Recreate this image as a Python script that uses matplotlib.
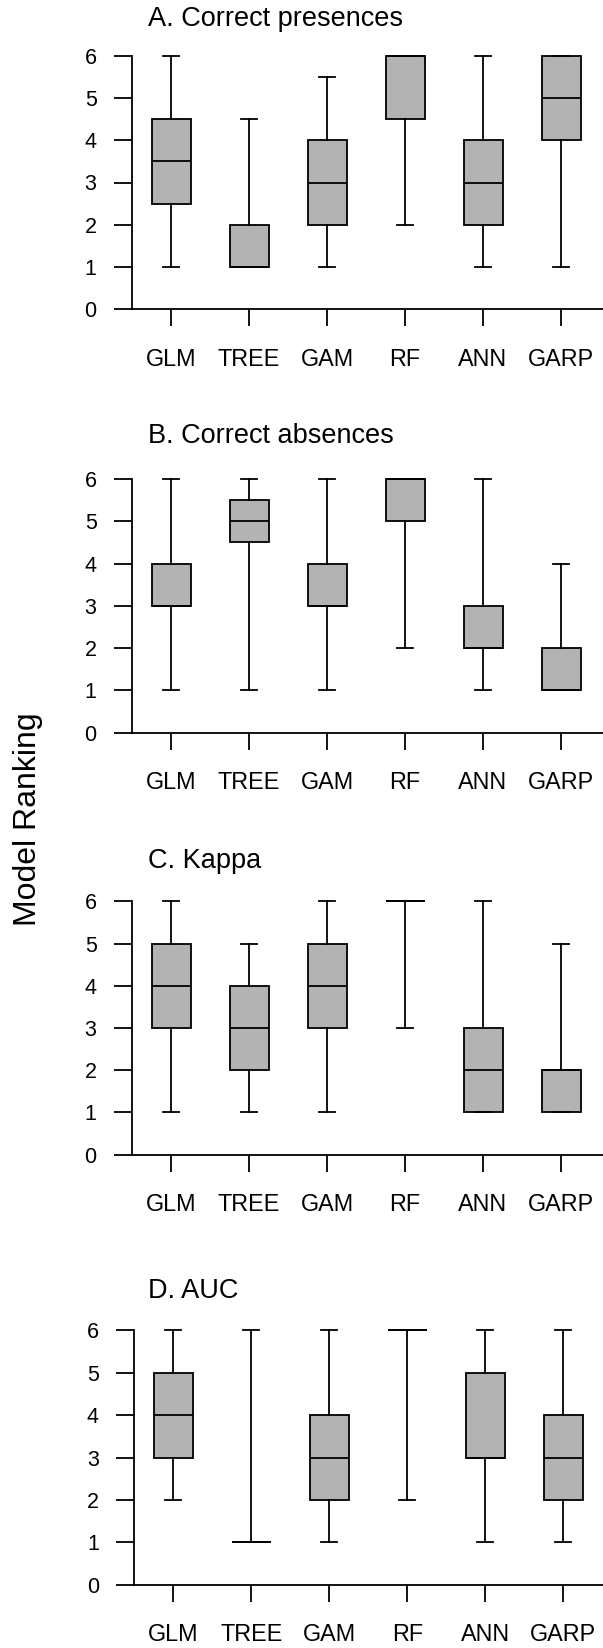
import matplotlib
matplotlib.use("Agg")
import matplotlib.pyplot as plt

plt.rcParams['font.family'] = ['Liberation Sans', 'DejaVu Sans']

models = ["GLM", "TREE", "GAM", "RF", "ANN", "GARP"]
titles = ["A. Correct presences", "B. Correct absences", "C. Kappa", "D. AUC"]
yticks = [0, 1, 2, 3, 4, 5, 6]

# per panel: whisker low, Q1, median, Q3, whisker high (one value per model)
a_lo = [1, 1, 1, 2, 1, 1]
a_q1 = [2.5, 1, 2, 4.5, 2, 4]
a_med = [3.5, 1, 3, 6, 3, 5]
a_q3 = [4.5, 2, 4, 6, 4, 6]
a_hi = [6, 4.5, 5.5, 6, 6, 6]

b_lo = [1, 1, 1, 2, 1, 1]
b_q1 = [3, 4.5, 3, 5, 2, 1]
b_med = [3, 5, 3, 6, 2, 1]
b_q3 = [4, 5.5, 4, 6, 3, 2]
b_hi = [6, 6, 6, 6, 6, 4]

c_lo = [1, 1, 1, 3, 1, 1]
c_q1 = [3, 2, 3, 6, 1, 1]
c_med = [4, 3, 4, 6, 2, 2]
c_q3 = [5, 4, 5, 6, 3, 2]
c_hi = [6, 5, 6, 6, 6, 5]

d_lo = [2, 1, 1, 2, 1, 1]
d_q1 = [3, 1, 2, 6, 3, 2]
d_med = [4, 1, 3, 6, 3, 3]
d_q3 = [5, 1, 4, 6, 5, 4]
d_hi = [6, 6, 6, 6, 6, 6]

panels = [
    (a_lo, a_q1, a_med, a_q3, a_hi),
    (b_lo, b_q1, b_med, b_q3, b_hi),
    (c_lo, c_q1, c_med, c_q3, c_hi),
    (d_lo, d_q1, d_med, d_q3, d_hi),
]

W, H = 603, 1648
fig = plt.figure(figsize=(W / 100, H / 100), dpi=100)

# layout in pixels
ax_left = [132, 132, 132, 134.3]
ax_top = [55.7, 479.0, 901.3, 1330.3]
ax_bot = [309.3, 732.7, 1154.7, 1584.7]
title_base = [26, 443, 868, 1298]
title_x = 148

lw = 1.3
for i, (lo, q1, med, q3, hi) in enumerate(panels):
    left = ax_left[i]
    ax = fig.add_axes([left / W, 1 - ax_bot[i] / H, (W - left) / W,
                       (ax_bot[i] - ax_top[i]) / H])
    stats = []
    for k, m in enumerate(models):
        stats.append(dict(label=m, whislo=lo[k], q1=q1[k], med=med[k],
                          q3=q3[k], whishi=hi[k], fliers=[]))
    res = ax.bxp(stats, positions=range(1, 7), widths=0.5, capwidths=0.205,
                 patch_artist=True, showfliers=False,
                 boxprops=dict(facecolor='#B3B3B3', edgecolor='black', linewidth=lw),
                 medianprops=dict(color='black', linewidth=lw),
                 whiskerprops=dict(color='black', linewidth=lw),
                 capprops=dict(color='black', linewidth=lw))
    for key in res:
        for art in res[key]:
            art.set_clip_on(False)
    span = (W - left) / 78.0
    ax.set_xlim(0.5, 0.5 + span)
    ax.set_ylim(0, 6)
    ax.set_yticks(yticks)
    ax.set_yticklabels([str(t) for t in yticks], fontsize=15.5)
    ax.set_xticks(range(1, 7))
    ax.set_xticklabels(models, fontsize=16.8)
    for s in ['top', 'right']:
        ax.spines[s].set_visible(False)
    for s in ['left', 'bottom']:
        ax.spines[s].set_linewidth(lw)
    ax.tick_params(axis='y', length=13, width=lw, pad=12.5)
    ax.tick_params(axis='x', length=12.3, width=lw, pad=15.5)
    ax.patch.set_alpha(0)
    fig.text(title_x / W, 1 - title_base[i] / H, titles[i], fontsize=19.5,
             ha='left', va='baseline')

fig.text(28.5 / W, 1 - 819 / H, "Model Ranking", rotation=90, fontsize=23,
         ha='center', va='center')

fig.savefig("out.png", dpi=100)
